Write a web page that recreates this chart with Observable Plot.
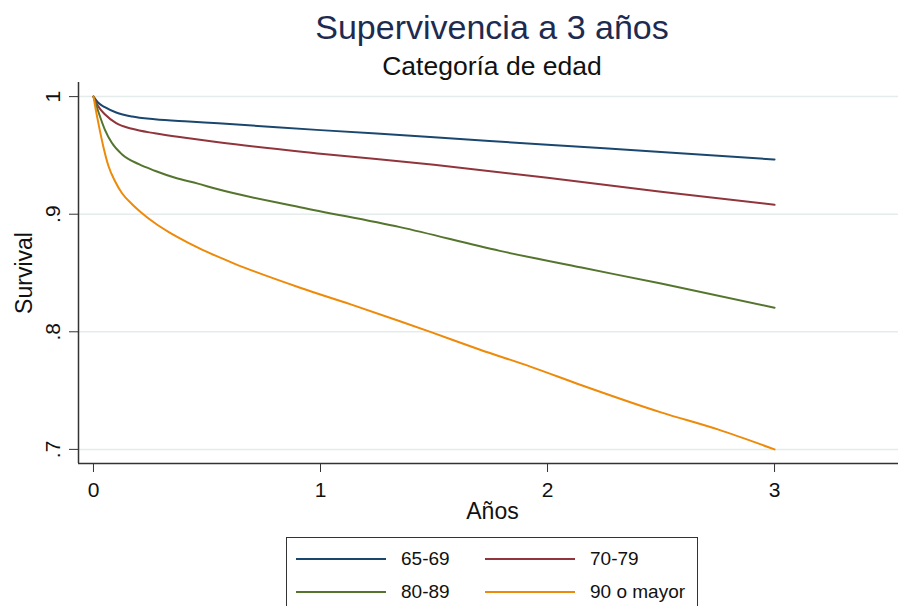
<!DOCTYPE html>
<html>
<head>
<meta charset="utf-8">
<script src="https://cdn.jsdelivr.net/npm/d3@7"></script>
<script src="https://cdn.jsdelivr.net/npm/@observablehq/plot@0.6"></script>
<style>
  html, body { margin: 0; padding: 0; background: #fff; width: 898px; height: 606px; overflow: hidden; }
  body { font-family: "Liberation Sans", Arial, sans-serif; position: relative; }
  #title { position: absolute; left: 0; width: 984px; text-align: center; top: 10px; font-size: 34px; line-height: 1; color: #1e2b50; white-space: nowrap; }
  #subtitle { position: absolute; left: 0; width: 984px; text-align: center; top: 53px; font-size: 26.5px; line-height: 1; color: #111; white-space: nowrap; }
  #chart { position: absolute; left: 0; top: 82px; }
  #legend { position: absolute; left: 286px; top: 537px; width: 412px; height: 90px; border: 1.5px solid #333; box-sizing: border-box; }
  .item { position: absolute; font-size: 19px; color: #111; display: flex; align-items: center; white-space: nowrap; }
  .item svg { margin-right: 15px; }
</style>
</head>
<body>
<div id="title">Supervivencia a 3 años</div>
<div id="subtitle">Categoría de edad</div>
<div id="chart"></div>
<div id="legend"></div>
<script>
const groups = ["65-69", "70-79", "80-89", "90 o mayor"];
const colors = ["#1a476f", "#90353b", "#55752f", "#ee8a0a"];

const t6569 = [0, 0.02, 0.05, 0.1, 0.17, 0.27, 0.42, 0.55, 1, 1.5, 2, 2.5, 3];
const s6569 = [1, 0.995, 0.991, 0.9865, 0.983, 0.9807, 0.9788, 0.9773, 0.9715, 0.9655, 0.959, 0.953, 0.9465];

const t7079 = [0, 0.02, 0.05, 0.1, 0.17, 0.27, 0.42, 0.55, 1, 1.5, 2, 2.5, 3];
const s7079 = [1, 0.992, 0.985, 0.9775, 0.9726, 0.9688, 0.9646, 0.9612, 0.9515, 0.942, 0.931, 0.919, 0.908];

const t8089 = [0, 0.02, 0.05, 0.08, 0.125, 0.2, 0.27, 0.36, 0.46, 0.54, 0.91, 1.35, 1.79, 2.15, 2.5, 3];
const s8089 = [1, 0.988, 0.972, 0.961, 0.951, 0.9425, 0.937, 0.931, 0.926, 0.9216, 0.906, 0.889, 0.8688, 0.8546, 0.841, 0.8205];

const t90 = [0, 0.01, 0.022, 0.044, 0.066, 0.095, 0.125, 0.17, 0.21, 0.27, 0.33, 0.42, 0.54, 0.62, 0.91, 1.13, 1.35, 1.49, 1.7, 1.93, 2.15, 2.5, 2.75, 3];
const s90 = [1, 0.989, 0.977, 0.957, 0.941, 0.928, 0.918, 0.9085, 0.9015, 0.8925, 0.885, 0.8755, 0.8645, 0.858, 0.8375, 0.8235, 0.809, 0.7995, 0.785, 0.770, 0.7546, 0.7315, 0.717, 0.700];

const xTicks = [0, 1, 2, 3];
const xTickLabels = ["0", "1", "2", "3"];
const yTicks = [0.7, 0.8, 0.9, 1];
const yTickLabels = [".7", ".8", ".9", "1"];

const series = [[t6569, s6569], [t7079, s7079], [t8089, s8089], [t90, s90]];
const data = [];
series.forEach(([ts, ss], i) => ts.forEach((t, j) => data.push({group: groups[i], t, s: ss[j]})));

const xMin = -0.066, xMax = 3.546, yMin = 0.688, yMax = 1.012;

const chart = Plot.plot({
  width: 898,
  height: 446,
  marginLeft: 78,
  marginRight: 0,
  marginTop: 0,
  marginBottom: 65,
  style: {fontFamily: "'Liberation Sans', Arial, sans-serif", fontSize: "21px", color: "#111", background: "transparent"},
  x: {domain: [xMin, xMax]},
  y: {domain: [yMin, yMax]},
  color: {domain: groups, range: colors},
  marks: [
    Plot.gridY(yTicks, {stroke: "#e4ecec", strokeOpacity: 1, strokeWidth: 1.5}),
    Plot.line(data, {x: "t", y: "s", z: "group", stroke: "group", strokeWidth: 2, curve: "monotone-x"}),
    Plot.ruleX([xMin], {stroke: "#333", strokeWidth: 1.5}),
    Plot.ruleY([yMin], {stroke: "#333", strokeWidth: 1.5}),
    Plot.axisY(yTicks, {tickSize: 9, tickPadding: 10, tickRotate: -90, tickFormat: d => yTickLabels[yTicks.indexOf(d)], label: null, fontSize: 21, stroke: "#333"}),
    Plot.axisX(xTicks, {tickSize: 9, tickPadding: 10, tickFormat: d => xTickLabels[xTicks.indexOf(d)], label: null, fontSize: 21, stroke: "#333"}),
    Plot.text(["Survival"], {frameAnchor: "left", dx: -54, rotate: -90, textAnchor: "middle", fontSize: 23, fill: "#111"}),
    Plot.text(["Años"], {frameAnchor: "bottom", dy: 55, dx: 4, textAnchor: "middle", fontSize: 23, fill: "#111"})
  ]
});
document.getElementById("chart").appendChild(chart);

const legend = document.getElementById("legend");
const pos = [[9, 22], [198, 22], [9, 55], [198, 55]];
groups.forEach((g, i) => {
  const div = document.createElement("div");
  div.className = "item";
  div.style.left = pos[i][0] + "px";
  div.style.top = (pos[i][1] - 12) + "px";
  div.innerHTML = `<svg width="90" height="4"><line x1="0" x2="90" y1="2" y2="2" stroke="${colors[i]}" stroke-width="2"/></svg><span>${g}</span>`;
  legend.appendChild(div);
});
</script>
</body>
</html>
